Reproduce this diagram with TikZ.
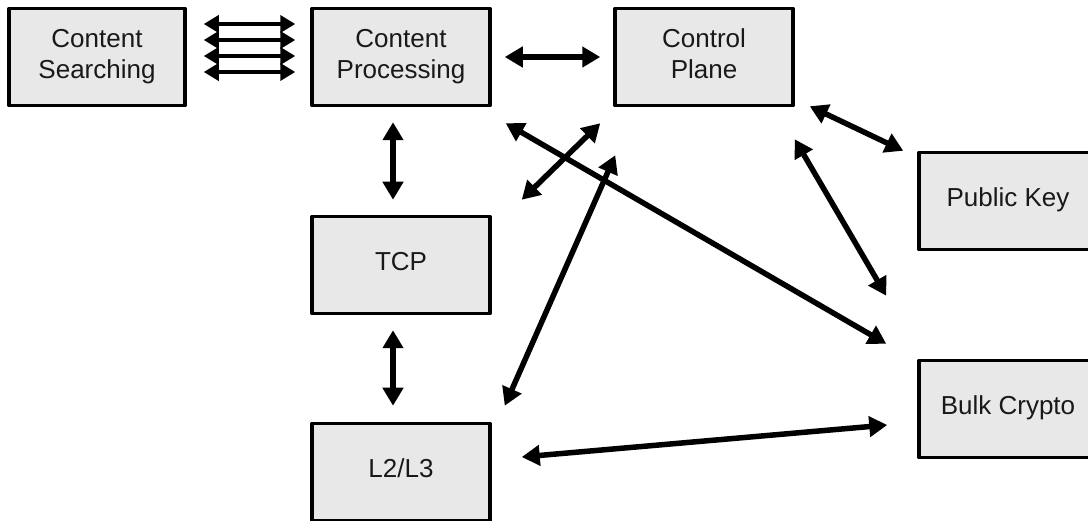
\documentclass[tikz,border=0pt]{standalone}
\usepackage{fontspec}
\setmainfont{Liberation Sans}
\usetikzlibrary{arrows.meta}

\begin{document}
\begin{tikzpicture}[x=1pt, y=-1pt,
    bx/.style={draw, line width=3.5pt, line join=round, fill=black!9, text=black!90, minimum width=178pt, minimum height=97pt, inner sep=0pt, align=center, text depth=7pt, font=\fontsize{26}{31}\selectfont},
    lk/.style={line width=5.5pt, {Triangle[length=18pt,width=20pt]}-{Triangle[length=18pt,width=20pt]}}]
    \useasboundingbox (0,0) rectangle (1088,521);

    \node[bx, minimum width=176pt] (srch) at (97,57) {Content\\Searching};
    \node[bx] (proc) at (401,57) {Content\\Processing};
    \node[bx] (ctrl) at (704,57) {Control\\Plane};
    \node[bx] (tcp) at (401,265) {TCP};
    \node[bx] (l23) at (401,472) {L2/L3};
    \node[bx] (pkey) at (1008,201) {Public Key};
    \node[bx] (bulk) at (1008,409) {Bulk Crypto};

    % searching <-> processing, four lanes
    \foreach \dy in {-33,-17,-1,15}
      \draw[line width=4.5pt, {Triangle[length=15pt,width=17pt]}-{Triangle[length=15pt,width=17pt]}]
        ([shift={(17,\dy)}]srch.east) -- ([shift={(-15,\dy)}]proc.west);

    \draw[lk] ([xshift=13pt]proc.east) -- ([xshift=-13pt]ctrl.west);
    \draw[lk] ([shift={(-8,15)}]proc.south) -- ([shift={(-8,-15)}]tcp.north);
    \draw[lk] ([shift={(-8,15)}]tcp.south) -- ([shift={(-8,-16)}]l23.north);

    \draw[lk] ([shift={(-13,16)}]ctrl.south west) -- ([shift={(30,-15)}]tcp.north east);
    \draw[lk] ([shift={(14,16)}]proc.south east) -- ([shift={(-31,-15)}]bulk.north west);
    \draw[lk] ([shift={(2,48)}]ctrl.south west) -- ([shift={(13,-16)}]l23.north east);
    \draw[lk] ([shift={(15,-1)}]ctrl.south east) -- ([shift={(-14,0)}]pkey.north west);
    \draw[lk] ([shift={(0,32)}]ctrl.south east) -- ([shift={(-31,-63)}]bulk.north west);
    \draw[lk] ([shift={(30,-15)}]l23.east) -- ([shift={(-30,16)}]bulk.west);
\end{tikzpicture}
\end{document}
